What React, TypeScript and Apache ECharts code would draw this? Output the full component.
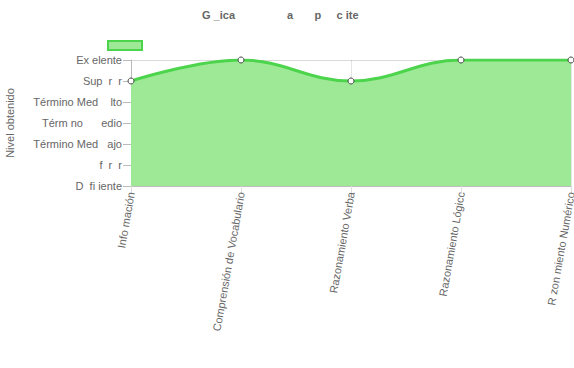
import React, { useEffect, useRef } from "react";
import * as echarts from "echarts";

const categories = [
  "Info mación",
  "Comprensión de Vocabulario",
  "Razonamiento Verba",
  "Razonamiento Lógicc",
  "R zon miento Numérico",
];
const levelLabels = [
  "D  fi iente",
  "f  r  r",
  "Término Med   ajo",
  "Térm no      edio",
  "Término Med    lto",
  "Sup  r  r",
  "Ex elente",
];
const values = [5, 6, 5, 6, 6];
const titleText = "G _ica                 a       p     c ite";

export default function App() {
  const ref = useRef<HTMLDivElement>(null);
  useEffect(() => {
    if (!ref.current) return;
    const chart = echarts.init(ref.current, undefined, { renderer: "svg" });
    const font = "Arial, 'Liberation Sans', sans-serif";
    chart.setOption({
      animation: false,
      title: {
        text: titleText,
        left: 197,
        top: 4,
        textStyle: { fontSize: 11, fontWeight: "bold", color: "#666", fontFamily: font },
      },
      legend: {
        left: 102,
        top: 35,
        itemWidth: 34,
        itemHeight: 9,
        icon: "rect",
        formatter: () => "",
        selectedMode: false,
        data: [{ name: "nivel", itemStyle: { color: "#9de996", borderColor: "#4cd44c", borderWidth: 2 } }],
      },
      grid: { left: 131, right: 3, top: 60, bottom: 182, containLabel: false, outerBoundsMode: "none" },
      xAxis: {
        type: "category",
        data: categories,
        boundaryGap: false,
        axisLine: { lineStyle: { color: "#bbb" } },
        axisTick: { show: true, length: 8, lineStyle: { color: "#ddd" } },
        axisLabel: { rotate: 80, color: "#666", fontSize: 11, fontFamily: font, margin: 6, interval: 0 },
        splitLine: { show: true, lineStyle: { color: "rgba(0,0,0,0.1)" } },
      },
      yAxis: {
        type: "value",
        min: 0,
        max: 6,
        interval: 1,
        name: "Nivel obtenido",
        nameLocation: "middle",
        nameRotate: 90,
        nameGap: 116,
        nameTextStyle: { color: "#666", fontSize: 11, fontFamily: font },
        axisLine: { show: true, lineStyle: { color: "#bbb" } },
        axisTick: { show: true, length: 8, lineStyle: { color: "#bbb" } },
        axisLabel: {
          color: "#666",
          fontSize: 11,
          fontFamily: font,
          margin: 9,
          formatter: (v: number) => levelLabels[v] ?? "",
        },
        splitLine: { show: true, lineStyle: { color: "rgba(0,0,0,0.15)" } },
      },
      series: [
        {
          name: "nivel",
          type: "line",
          data: values,
          smooth: 0.4,
          smoothMonotone: "x",
          symbol: "circle",
          symbolSize: 6,
          lineStyle: { color: "#4cd44c", width: 3 },
          itemStyle: { color: "#fff", borderColor: "#444", borderWidth: 1 },
          areaStyle: { color: "#9de996", opacity: 1 },
          z: 1,
        },
      ],
    });
    return () => chart.dispose();
  }, []);
  return <div ref={ref} style={{ width: 574, height: 368, position: "absolute", left: 0, top: 0 }} />;
}
